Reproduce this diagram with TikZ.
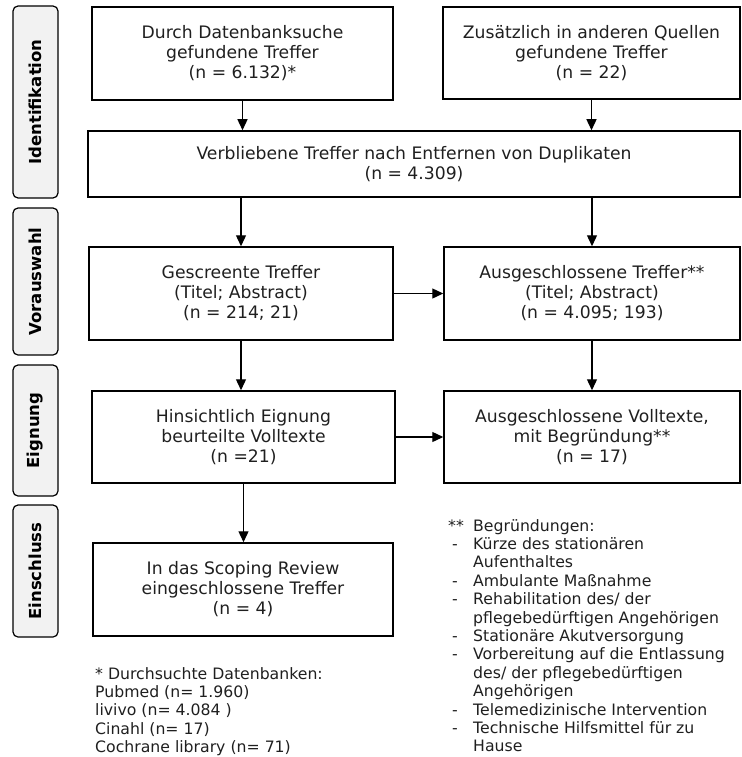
\documentclass[tikz,border=0pt]{standalone}
\usepackage{fontspec}
\setmainfont{DejaVu Sans}
\usetikzlibrary{arrows.meta}
\begin{document}
\begin{tikzpicture}[x=1pt,y=-1pt,
  box/.style={draw=black, line width=1.5pt, align=center, inner sep=0pt,
    font=\fontsize{17.2}{20}\selectfont, text=black!88},
  lab/.style={draw=black, line width=1.2pt, fill=black!5, rounded corners=5pt,
    inner sep=0pt, rotate=90, minimum height=45pt,
    font=\fontsize{16.5}{18}\selectfont\bfseries},
  fn/.style={align=left, inner sep=0pt, anchor=north west,
    font=\fontsize{15.7}{18.4}\selectfont, text=black!88},
  arr/.style={line width=1.3pt, -{Triangle[length=11pt,width=10pt]}}]
\useasboundingbox (0,0) rectangle (741,757);
% phase labels
\node[lab, minimum width=192pt] (l1) at (35.5,102) {Identifikation};
\node[lab, minimum width=147pt] (l2) at (35.5,281.5) {Vorauswahl};
\node[lab, minimum width=131pt] (l3) at (35.5,430.5) {Eignung};
\node[lab, minimum width=132pt] (l4) at (35.5,571) {Einschluss};
% boxes
\node[box, minimum width=301pt, minimum height=93pt] (b1) at (242.5,53.5)
  {Durch Datenbanksuche\\gefundene Treffer\\(n = 6.132)*};
\node[box, minimum width=297pt, minimum height=92pt] (b2) at (591.5,53)
  {Zusätzlich in anderen Quellen\\gefundene Treffer\\(n = 22)};
\node[box, minimum width=652pt, minimum height=66pt] (b3) at (414,164)
  {Verbliebene Treffer nach Entfernen von Duplikaten\\(n = 4.309)};
\node[box, minimum width=304pt, minimum height=93pt] (b4) at (241,293.5)
  {Gescreente Treffer\\(Titel; Abstract)\\(n = 214; 21)};
\node[box, minimum width=296pt, minimum height=93pt] (b5) at (592,293.5)
  {Ausgeschlossene Treffer**\\(Titel; Abstract)\\(n = 4.095; 193)};
\node[box, minimum width=303pt, minimum height=92pt] (b6) at (243.5,437)
  {Hinsichtlich Eignung\\beurteilte Volltexte\\(n =21)};
\node[box, minimum width=296pt, minimum height=92pt] (b7) at (592,437)
  {Ausgeschlossene Volltexte,\\mit Begründung**\\(n = 17)};
\node[box, minimum width=300pt, minimum height=93pt] (b8) at (243,589.5)
  {In das Scoping Review\\eingeschlossene Treffer\\(n = 4)};
% arrows
\draw[arr] (b1.south) -- (b1.south |- b3.north);
\draw[arr] (b2.south) -- (b2.south |- b3.north);
\draw[arr] (b4.north |- b3.south) -- (b4.north);
\draw[arr] (b5.north |- b3.south) -- (b5.north);
\draw[arr] (b4.east) -- (b5.west);
\draw[arr] (b4.south) -- (b4.south |- b6.north);
\draw[arr] (b5.south) -- (b5.south |- b7.north);
\draw[arr] (b6.east) -- (b7.west);
\draw[arr] (b6.south) -- (b6.south |- b8.north);
% footnotes
\node[fn] (fn1) at (95,667)
  {* Durchsuchte Datenbanken:\\Pubmed (n= 1.960)\\livivo (n= 4.084 )\\Cinahl (n= 17)\\Cochrane library (n= 71)};
\node[fn] (fn2) at (448,519)
  {\makebox[25pt][l]{**}Begründungen:\\
   \makebox[25pt][l]{\hspace{4pt}-}Kürze des stationären\\
   \hspace*{25pt}Aufenthaltes\\
   \makebox[25pt][l]{\hspace{4pt}-}Ambulante Maßnahme\\
   \makebox[25pt][l]{\hspace{4pt}-}Rehabilitation des/ der\\
   \hspace*{25pt}pflegebedürftigen Angehörigen\\
   \makebox[25pt][l]{\hspace{4pt}-}Stationäre Akutversorgung\\
   \makebox[25pt][l]{\hspace{4pt}-}Vorbereitung auf die Entlassung\\
   \hspace*{25pt}des/ der pflegebedürftigen\\
   \hspace*{25pt}Angehörigen\\
   \makebox[25pt][l]{\hspace{4pt}-}Telemedizinische Intervention\\
   \makebox[25pt][l]{\hspace{4pt}-}Technische Hilfsmittel für zu\\
   \hspace*{25pt}Hause};
\end{tikzpicture}
\end{document}
